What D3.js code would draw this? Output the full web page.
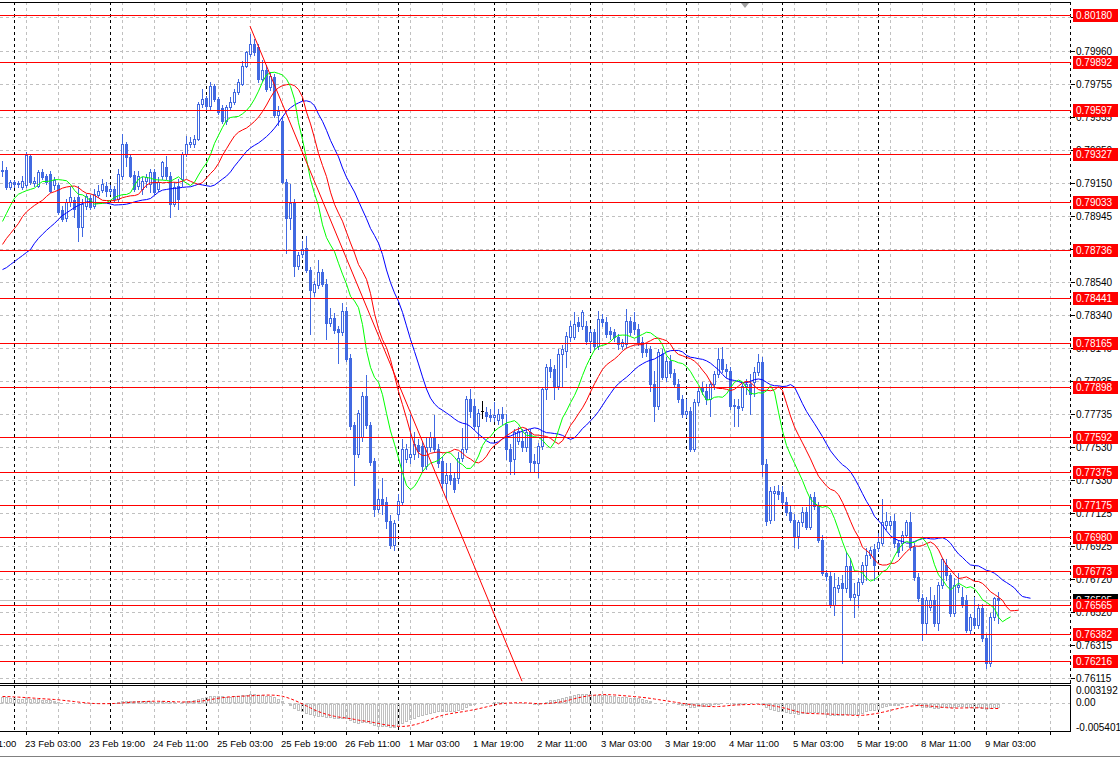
<!DOCTYPE html>
<html><head><meta charset="utf-8">
<script src="https://cdn.jsdelivr.net/npm/d3@7"></script>
<style>body{margin:0;background:#fff}svg{display:block;font-family:"Liberation Sans",Arial,sans-serif}</style>
</head><body><svg id="c" width="1120" height="758"></svg>
<script>
// ---- data (H1 bars, 22 Feb 21:00 .. 9 Mar 06:00) ----
const opens=[.79223,.79229,.79125,.79155,.79143,.79125,.79137,.79315,.79149,.79131,.79217,.79192,.79204,.79137,.79137,.78983,.78934,.79033,.79045,.79063,.78879,.79008,.79057,.79008,.79076,.79106,.79131,.79100,.79112,.79051,.79192,.79389,.79309,.79198,.79131,.79112,.79162,.79143,.79217,.79112,.79192,.79247,.79192,.79020,.79131,.79174,.79327,.79389,.79389,.79419,.79634,.79671,.79622,.79745,.79665,.79610,.79530,.79616,.79647,.79708,.79757,.79868,.79941,.80003,.79984,.79788,.79843,.79739,.79800,.79567,.79530,.79155,.78934,.79026,.78640,.78713,.78750,.78615,.78480,.78523,.78603,.78529,.78290,.78320,.78253,.78234,.78363,.78075,.77663,.77485,.77590,.77841,.77663,.77442,.77148,.77209,.77191,.77074,.76927,.77117,.77191,.77455,.77467,.77485,.77541,.77534,.77412,.77528,.77590,.77516,.77442,.77307,.77356,.77338,.77338,.77461,.77516,.77823,.77780,.77657,.77749,.77743,.77725,.77712,.77694,.77731,.77669,.77516,.77455,.77565,.77565,.77528,.77620,.77442,.77430,.77534,.77884,.78019,.78007,.77903,.78099,.78118,.78204,.78204,.78296,.78271,.78271,.78179,.78234,.78148,.78314,.78296,.78241,.78234,.78204,.78148,.78161,.78302,.78296,.78253,.78173,.78130,.78130,.77915,.77780,.78099,.77958,.78056,.77983,.77915,.77823,.77731,.77749,.77516,.77805,.77897,.77872,.77823,.77915,.77976,.78069,.78007,.77995,.77786,.77780,.77774,.77903,.77915,.77927,.77989,.78050,.77424,.77086,.77246,.77258,.77252,.77191,.77129,.77086,.76982,.77068,.77135,.77043,.77221,.77166,.76963,.76761,.76742,.76564,.76669,.76699,.76669,.76798,.76613,.76626,.76706,.76810,.76871,.76908,.76914,.76945,.77055,.77055,.77074,.76945,.76945,.76994,.77068,.76920,.76736,.76607,.76454,.76552,.76595,.76454,.76687,.76810,.76748,.76515,.76675,.76613,.76595,.76411,.76485,.76441,.76546,.76362,.76208,.76491,.76607];
const highs=[.79284,.79247,.79168,.79168,.79162,.79192,.79340,.79327,.79186,.79229,.79235,.79204,.79223,.79186,.79149,.79008,.79051,.79125,.79063,.79131,.79051,.79082,.79076,.79112,.79137,.79174,.79155,.79137,.79131,.79235,.79450,.79401,.79327,.79223,.79223,.79186,.79204,.79235,.79235,.79186,.79284,.79315,.79217,.79155,.79174,.79340,.79438,.79432,.79444,.79647,.79726,.79683,.79769,.79757,.79677,.79628,.79628,.79677,.79726,.79788,.79898,.79960,.80064,.80033,.80003,.79904,.79874,.79831,.79818,.79622,.79554,.79174,.79143,.79051,.78726,.78793,.78824,.78633,.78548,.78676,.78621,.78560,.78382,.78351,.78271,.78412,.78388,.78099,.77682,.77755,.77866,.77970,.77682,.77461,.77270,.77338,.77221,.77111,.77086,.77240,.77577,.77547,.77725,.77620,.77577,.77565,.77590,.77620,.77725,.77547,.77467,.77430,.77430,.77369,.77498,.77645,.77841,.77884,.77823,.77762,.77811,.77774,.77762,.77805,.77762,.77774,.77731,.77547,.77639,.77651,.77639,.77639,.77639,.77485,.77553,.77897,.78038,.78069,.78032,.78130,.78155,.78234,.78302,.78357,.78326,.78369,.78302,.78253,.78253,.78363,.78345,.78326,.78265,.78253,.78222,.78191,.78376,.78326,.78357,.78283,.78204,.78161,.78148,.77995,.78130,.78130,.78081,.78093,.78007,.77946,.77848,.77823,.77774,.77823,.77897,.77927,.77915,.77934,.77995,.78136,.78142,.78038,.78019,.77823,.77823,.77915,.77946,.77976,.78019,.78099,.78081,.77455,.77283,.77289,.77295,.77289,.77221,.77166,.77117,.77086,.77160,.77160,.77240,.77252,.77191,.76994,.76779,.76767,.76761,.76736,.76748,.76884,.76853,.76699,.76730,.76828,.76914,.76920,.76933,.77006,.77209,.77129,.77105,.77117,.76963,.77013,.77086,.77129,.76945,.76761,.76632,.76613,.76675,.76626,.76706,.76853,.76841,.76761,.76730,.76761,.76675,.76626,.76509,.76613,.76570,.76570,.76380,.76515,.76613,.76644];
const lows=[.79192,.79112,.79112,.79125,.79125,.79112,.79125,.79143,.79131,.79125,.79174,.79143,.79094,.79112,.78959,.78916,.78916,.79008,.78940,.78793,.78824,.78990,.78990,.78996,.79063,.79094,.79069,.79082,.79039,.79039,.79174,.79254,.79186,.79100,.79112,.79082,.79125,.79094,.79082,.79100,.79174,.79174,.78940,.79008,.78990,.79131,.79315,.79370,.79370,.79413,.79616,.79604,.79604,.79653,.79573,.79518,.79511,.79604,.79634,.79696,.79751,.79861,.79929,.79935,.79769,.79776,.79714,.79720,.79554,.79505,.79149,.78719,.78867,.78578,.78621,.78695,.78603,.78222,.78455,.78505,.78517,.78191,.78271,.78228,.78044,.78216,.78056,.77639,.77295,.77467,.77565,.77645,.77418,.77105,.77129,.77117,.77031,.76914,.76902,.77086,.77172,.77436,.77430,.77455,.77467,.77381,.77393,.77504,.77498,.77405,.77264,.77209,.77301,.77252,.77307,.77442,.77498,.77712,.77639,.77577,.77706,.77688,.77688,.77688,.77669,.77669,.77455,.77362,.77362,.77547,.77504,.77504,.77381,.77375,.77344,.77516,.77823,.77958,.77823,.77884,.77897,.78019,.78179,.78191,.78241,.78253,.78161,.78118,.78130,.78130,.78271,.78204,.78191,.78179,.78130,.78130,.78142,.78216,.78222,.78155,.78081,.78087,.77872,.77688,.77762,.77946,.77934,.77958,.77897,.77805,.77712,.77712,.77504,.77504,.77786,.77854,.77792,.77719,.77884,.77958,.77989,.77958,.77762,.77657,.77657,.77755,.77854,.77731,.77841,.77970,.77350,.77055,.77062,.77086,.77209,.77172,.77111,.77068,.76920,.76914,.77049,.77025,.77025,.77148,.76951,.76748,.76718,.76552,.76503,.76644,.76208,.76644,.76595,.76491,.76552,.76693,.76718,.76853,.76718,.76890,.76927,.77025,.77025,.76920,.76865,.76902,.76976,.76902,.76718,.76589,.76349,.76392,.76534,.76435,.76411,.76669,.76718,.76497,.76497,.76644,.76552,.76399,.76392,.76423,.76423,.76343,.76177,.76190,.76472,.76454];
const closes=[.79229,.79125,.79155,.79143,.79149,.79162,.79321,.79155,.79162,.79217,.79186,.79155,.79100,.79168,.78971,.78928,.79033,.79063,.78990,.78879,.79020,.79069,.79002,.79082,.79100,.79143,.79100,.79112,.79051,.79204,.79389,.79309,.79192,.79112,.79192,.79162,.79186,.79217,.79094,.79155,.79278,.79192,.79020,.79125,.79051,.79327,.79389,.79401,.79419,.79634,.79665,.79622,.79745,.79665,.79585,.79530,.79616,.79647,.79708,.79769,.79868,.79954,.80003,.79954,.79788,.79843,.79726,.79806,.79567,.79591,.79155,.78934,.79026,.78640,.78707,.78744,.78615,.78492,.78529,.78603,.78529,.78290,.78320,.78247,.78234,.78363,.78069,.77657,.77485,.77737,.77841,.77663,.77436,.77148,.77209,.77178,.77074,.76927,.77062,.77197,.77516,.77516,.77485,.77547,.77504,.77412,.77528,.77590,.77516,.77430,.77307,.77356,.77326,.77270,.77461,.77516,.77823,.77749,.77657,.77737,.77749,.77719,.77712,.77725,.77731,.77706,.77516,.77442,.77620,.77627,.77528,.77620,.77436,.77430,.77534,.77884,.78019,.77995,.77903,.78099,.78130,.78210,.78271,.78283,.78271,.78357,.78179,.78234,.78148,.78314,.78296,.78222,.78222,.78204,.78161,.78173,.78302,.78234,.78253,.78173,.78112,.78112,.77915,.77780,.78112,.77958,.78056,.77983,.77915,.77823,.77731,.77749,.77516,.77805,.77872,.77872,.77823,.77915,.77976,.78069,.78007,.77995,.77780,.77780,.77768,.77903,.77915,.77854,.77989,.78050,.77424,.77074,.77258,.77258,.77240,.77191,.77129,.77086,.76982,.77068,.77135,.77043,.77227,.77166,.76963,.76761,.76742,.76564,.76675,.76687,.76669,.76798,.76613,.76632,.76706,.76810,.76871,.76902,.76810,.76951,.77068,.77074,.77074,.76945,.76884,.76994,.77068,.76920,.76736,.76607,.76454,.76595,.76595,.76454,.76687,.76841,.76748,.76515,.76687,.76687,.76564,.76411,.76491,.76441,.76546,.76362,.76208,.76491,.76607,.76595];

// price-axis tick labels and horizontal level lines
const priceTicks=[0.80165,0.79960,0.79755,0.79555,0.79350,0.79150,0.78945,0.78745,0.78540,0.78340,0.78140,0.77935,0.77735,0.77530,0.77330,0.77125,0.76925,0.76720,0.76520,0.76315,0.76115];
const levels=[0.80180,0.79892,0.79597,0.79327,0.79033,0.78736,0.78441,0.78165,0.77898,0.77592,0.77375,0.77175,0.76980,0.76773,0.76565,0.76382,0.76216];
// Alligator values already displayed before the first bar
const jawLead=[0.78621,0.78633,0.78652,0.78670,0.78689,0.78707,0.78726,0.78744];
const teethLead=[0.78775,0.78812,0.78842,0.78873,0.78904];
const lipsLead=[0.78916,0.78965,0.79014];
// MACD(12,26,9) state before first bar: ema12, ema26, signal
const macdSeed=[0.79150,0.79020,0.0013];
const macdTicks=[0.003192,0.00,-0.005401];
// trend line anchors (time, price)
const trend=[["2021-02-25T11:00Z",0.80113],["2021-03-02T07:00Z",0.76098]];

// ---- layout ----
const svg=d3.select("#c");
const PR=1071, MT=2, MB=683, IT=685, IB=731;
const N=closes.length;
const times=[];{let t=Date.UTC(2021,1,22,11);while(times.length<300){const d=new Date(t),w=d.getUTCDay();if(w!==0&&w!==6)times.push(d);t+=36e5;}}
const T=i=>times[i+10];
const x=d3.scaleLinear().domain([0,N-1]).range([2,2+4*(N-1)]);
const y=d3.scaleLinear().domain([0.76087,0.80261]).range([MB,MT]);
const yi=d3.scaleLinear().domain([-0.005401,0.003192]).range([IB-1,IT+2]);
const fy=v=>Math.floor(y(v));
const px=v=>Math.round(v)+0.5;

svg.append("rect").attr("width",1120).attr("height",758).attr("fill","#fff");
const defs=svg.append("defs");
defs.append("clipPath").attr("id","cm").append("rect").attr("x",0).attr("y",MT).attr("width",PR).attr("height",MB-MT);
defs.append("clipPath").attr("id","ci").append("rect").attr("x",0).attr("y",IT).attr("width",PR).attr("height",IB-IT);
const gm=svg.append("g").attr("clip-path","url(#cm)");
const gi=svg.append("g").attr("clip-path","url(#ci)");

// horizontal grid
gm.selectAll(null).data(priceTicks).join("line").attr("x1",0).attr("x2",PR)
 .attr("y1",d=>fy(d)+0.5).attr("y2",d=>fy(d)+0.5).attr("stroke","#c0c0c0").attr("stroke-dasharray","3,3");
gi.append("line").attr("x1",0).attr("x2",PR).attr("y1",px(yi(0))).attr("y2",px(yi(0))).attr("stroke","#c0c0c0").attr("stroke-dasharray","3,3");
// vertical grid + day separators
const idx=d3.range(-10,275);
const gridIdx=idx.filter(i=>(i+10)%8===0);
const sepIdx=idx.filter(i=>T(i).getUTCHours()===0);
[[gm,MT,MB],[gi,IT,IB]].forEach(([g,a,b])=>{
 g.selectAll(null).data(gridIdx).join("line").attr("x1",d=>px(x(d))).attr("x2",d=>px(x(d))).attr("y1",a).attr("y2",b).attr("stroke","#c0c0c0").attr("stroke-dasharray","3,3");
 g.selectAll(null).data(sepIdx).join("line").attr("x1",d=>px(x(d))).attr("x2",d=>px(x(d))).attr("y1",a).attr("y2",b).attr("stroke","#000").attr("stroke-dasharray","3,3");
});
// current price line
gm.append("line").attr("x1",0).attr("x2",PR).attr("y1",fy(closes[N-1])+0.5).attr("y2",fy(closes[N-1])+0.5).attr("stroke","#c0c0c0");

// candles
const blue="#4169e1";
const cg=gm.append("g");
d3.range(N).forEach(i=>{
 const cx=Math.round(x(i)), o=opens[i], c=closes[i];
 const col=o===c?"#000":blue;
 cg.append("line").attr("x1",cx+0.5).attr("x2",cx+0.5).attr("y1",fy(highs[i])).attr("y2",fy(lows[i])+1).attr("stroke",col);
 const t=fy(Math.max(o,c)), b=fy(Math.min(o,c));
 if(o===c) cg.append("line").attr("x1",cx-1).attr("x2",cx+2).attr("y1",t+0.5).attr("y2",t+0.5).attr("stroke",col);
 else if(c>o) cg.append("rect").attr("x",cx-0.5).attr("y",t+0.5).attr("width",2).attr("height",Math.max(b-t,1)).attr("fill","#fff").attr("stroke",blue);
 else cg.append("rect").attr("x",cx-1).attr("y",t).attr("width",3).attr("height",Math.max(b-t+1,1)).attr("fill",blue);
});

// Alligator (SMMA of median price, shifted right)
const med=d3.range(N).map(i=>(highs[i]+lows[i])/2);
function smma(p,lead){const out=lead.slice();let prev=lead[lead.length-1];med.forEach(m=>{prev=(prev*(p-1)+m)/p;out.push(prev);});return out;}
const line=d3.line().x((d,i)=>x(i)+0.5).y(d=>y(d));
[[smma(13,jawLead),"#0000ff"],[smma(8,teethLead),"#ff0000"],[smma(5,lipsLead),"#00ff00"]].forEach(([s,col])=>{
 gm.append("path").attr("d",line(s)).attr("fill","none").attr("stroke",col).attr("stroke-width",1);
});

// horizontal levels
gm.selectAll(null).data(levels).join("line").attr("x1",0).attr("x2",PR).attr("y1",d=>fy(d)+0.5).attr("y2",d=>fy(d)+0.5).attr("stroke","#ff0000").attr("shape-rendering","crispEdges");
// trend line
const ti=trend.map(([t,p])=>[times.findIndex(d=>+d===+new Date(t))-10,p]);
gm.append("line").attr("x1",x(ti[0][0])).attr("y1",y(ti[0][1])).attr("x2",x(ti[1][0])).attr("y2",y(ti[1][1])).attr("stroke","#ff0000");

// MACD
const a12=2/13,a26=2/27;let e12=macdSeed[0],e26=macdSeed[1];
const macd=[],sig=[],hist=d3.range(8).map(()=>macdSeed[2]);
closes.forEach(c=>{e12+=a12*(c-e12);e26+=a26*(c-e26);const m=e12-e26;macd.push(m);hist.push(m);sig.push(d3.mean(hist.slice(-9)));});
const z=px(yi(0));
macd.forEach((m,i)=>{const cx=Math.round(x(i)),v=Math.round(yi(m));
 gi.append("rect").attr("x",cx-0.5).attr("y",Math.min(v,z)+0.5).attr("width",2).attr("height",Math.max(Math.abs(v-z)-1,0)).attr("fill","none").attr("stroke","#c0c0c0");});
gi.append("path").attr("d",d3.line().x((d,i)=>x(i)+0.5).y(d=>yi(d))(sig)).attr("fill","none").attr("stroke","#ff0000").attr("stroke-dasharray","3,2");

// panel borders
const bd=svg.append("g").attr("stroke","#000").attr("shape-rendering","crispEdges");
bd.append("line").attr("x1",0).attr("x2",PR).attr("y1",MT+0.5).attr("y2",MT+0.5);
bd.append("line").attr("x1",0).attr("x2",PR).attr("y1",MB+0.5).attr("y2",MB+0.5);
bd.append("line").attr("x1",0).attr("x2",PR).attr("y1",IT+0.5).attr("y2",IT+0.5);
bd.append("line").attr("x1",0).attr("x2",PR).attr("y1",IB+0.5).attr("y2",IB+0.5);
bd.append("line").attr("x1",PR-0.5).attr("x2",PR-0.5).attr("y1",IT).attr("y2",IB+1);
svg.append("line").attr("x1",0).attr("x2",1120).attr("y1",756.5).attr("y2",756.5).attr("stroke","#808080");

// price axis
const ax=svg.append("g").attr("font-size",10);
priceTicks.forEach(v=>{const yy=fy(v)+0.5;
 ax.append("line").attr("x1",PR).attr("x2",PR+4).attr("y1",yy).attr("y2",yy).attr("stroke","#000");
 ax.append("text").attr("x",1076).attr("y",yy).attr("dy","0.35em").text(v.toFixed(5));});
{const yy=fy(closes[N-1]);
 ax.append("rect").attr("x",1073).attr("y",yy-6).attr("width",45).attr("height",13).attr("fill","#000");
 ax.append("text").attr("x",1076).attr("y",yy+0.5).attr("dy","0.35em").attr("fill","#fff").text(closes[N-1].toFixed(5));}
levels.forEach(v=>{const yy=fy(v);
 ax.append("rect").attr("x",1073).attr("y",yy-6).attr("width",45).attr("height",13).attr("fill","#ff0000");
 ax.append("text").attr("x",1076).attr("y",yy+0.5).attr("dy","0.35em").attr("fill","#fff").text(v.toFixed(5));});
macdTicks.forEach(v=>{const yy=Math.max(IT+5,Math.min(IB-4,yi(v)));
 ax.append("text").attr("x",1076).attr("y",yy).attr("dy","0.35em").text(v===0?"0.00":v.toFixed(6));});

// time axis
const fmt=d3.utcFormat("%-d %b %H:%M");
const labIdx=idx.filter(i=>(i+10)%16===0&&x(i)<PR-40);
const tx=svg.append("g").attr("font-size",9.5);
labIdx.forEach(i=>{tx.append("text").attr("x",x(i)-1).attr("y",747).text(fmt(T(i)));});
gridIdx.filter(i=>x(i)<PR).forEach(i=>tx.append("line").attr("x1",px(x(i))).attr("x2",px(x(i))).attr("y1",IB+1).attr("y2",IB+(((i+10)%16===0)?4:3)).attr("stroke","#000"));
// chart shift marker
svg.append("path").attr("d","M741,3 L749,3 L745,8 Z").attr("fill","#a0a0a0");
</script></body></html>
